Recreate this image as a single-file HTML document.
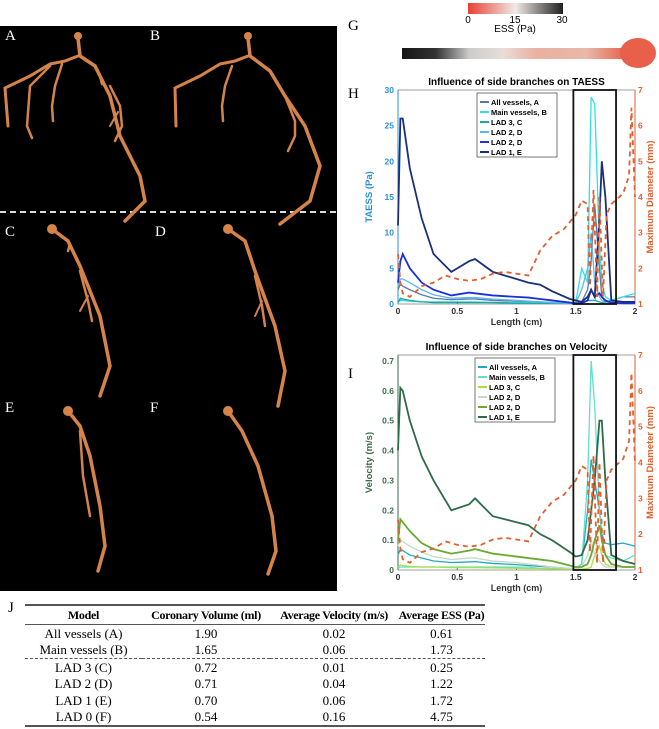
<!DOCTYPE html>
<html><head><meta charset="utf-8">
<style>
body{margin:0;background:#fff;width:659px;height:729px;overflow:hidden;font-family:"Liberation Sans",sans-serif;position:relative}
.lbl{position:absolute;font-family:"Liberation Serif",serif;font-size:15px}
table{position:absolute;left:25px;top:604px;width:460px;table-layout:fixed;border-collapse:collapse;font-family:"Liberation Serif",serif;font-size:13px;border-top:2px solid #555;border-bottom:2px solid #555}
td,th{text-align:center;padding:0;height:16.5px;line-height:15px;white-space:nowrap}
th{border-bottom:1.5px solid #555;font-weight:bold;height:18px;font-size:12px;letter-spacing:-0.3px}
tr.dash td{border-bottom:1.5px dashed #555}
</style></head><body>
<svg width="337" height="565" style="position:absolute;left:0;top:26px" viewBox="0 0 337 565">
<rect width="337" height="565" fill="#000"/>
<line x1="0" y1="186" x2="337" y2="186" stroke="#ddd" stroke-width="2" stroke-dasharray="6,4"/>
<g fill="none" stroke="#d6834a" stroke-linecap="round">
<path d="M78 12 L80 30 L95 40 L110 70 L120 110 L140 150 L145 175 L125 195" stroke-width="3.5"/>
<path d="M78 30 L65 35 L50 38 L30 50 L5 62 L8 100" stroke-width="3"/>
<path d="M50 40 L30 60 L27 100 L32 112" stroke-width="2.5"/>
<path d="M62 38 L55 60 L52 80 L53 95" stroke-width="2.5"/>
<path d="M110 60 L120 80 L122 100 L115 115" stroke-width="2.5"/>
<path d="M118 86 L110 100" stroke-width="2"/>
<path d="M100 50 L102 58" stroke-width="2.5"/>
<circle cx="78" cy="10" r="4" fill="#d6834a" stroke="none"/>
<path d="M248 12 L250 30 L270 45 L285 70 L305 100 L320 140 L310 175 L280 198" stroke-width="3.5"/>
<path d="M248 30 L235 35 L220 38 L200 50 L175 62 L176 100" stroke-width="3"/>
<path d="M232 40 L225 60 L222 80 L223 95" stroke-width="2.5"/>
<path d="M285 70 L295 95 L295 110 L288 125" stroke-width="2.5"/>
<circle cx="248" cy="10" r="4" fill="#d6834a" stroke="none"/>
<path d="M52 203 L68 215 L80 240 L100 290 L110 340 L100 370" stroke-width="3.5"/>
<path d="M80 245 L88 275 L92 295" stroke-width="2.5"/>
<path d="M88 270 L80 285" stroke-width="2"/>
<path d="M70 218 L68 225" stroke-width="2.5"/>
<circle cx="52" cy="203" r="5" fill="#d6834a" stroke="none"/>
<path d="M228 203 L245 215 L255 245 L275 300 L285 345 L278 380" stroke-width="3.5"/>
<path d="M255 250 L262 280 L265 300" stroke-width="2.5"/>
<path d="M262 275 L255 290" stroke-width="2"/>
<circle cx="228" cy="203" r="5" fill="#d6834a" stroke="none"/>
<path d="M68 385 L80 400 L90 430 L100 480 L105 520 L98 545" stroke-width="3.5"/>
<path d="M80 405 L83 450 L90 490" stroke-width="2.5"/>
<circle cx="68" cy="385" r="5" fill="#d6834a" stroke="none"/>
<path d="M228 385 L242 405 L258 440 L272 490 L276 525 L268 548" stroke-width="3.5"/>
<circle cx="228" cy="385" r="5" fill="#d6834a" stroke="none"/>
</g>
</svg>
<div class="lbl" style="left:5px;top:28px;color:#fff">A</div>
<div class="lbl" style="left:150px;top:28px;color:#fff">B</div>
<div class="lbl" style="left:5px;top:224px;color:#fff">C</div>
<div class="lbl" style="left:155px;top:224px;color:#fff">D</div>
<div class="lbl" style="left:5px;top:400px;color:#fff">E</div>
<div class="lbl" style="left:150px;top:400px;color:#fff">F</div>
<div class="lbl" style="left:348px;top:18px">G</div>
<div class="lbl" style="left:348px;top:86px">H</div>
<div class="lbl" style="left:348px;top:366px">I</div>
<div class="lbl" style="left:8px;top:600px">J</div>

<svg width="659" height="80" style="position:absolute;left:0;top:0">
<defs>
<linearGradient id="cb"><stop offset="0" stop-color="#e84030"/><stop offset="0.5" stop-color="#eeeae6"/><stop offset="1" stop-color="#202020"/></linearGradient>
<linearGradient id="vs"><stop offset="0" stop-color="#151515"/><stop offset="0.15" stop-color="#333"/><stop offset="0.3" stop-color="#ccc"/><stop offset="0.45" stop-color="#e8ddd8"/><stop offset="0.6" stop-color="#eab0a0"/><stop offset="0.82" stop-color="#e8b8aa"/><stop offset="1" stop-color="#e86048"/></linearGradient>
</defs>
<rect x="468" y="3" width="95" height="11" fill="url(#cb)"/>
<text x="468" y="23" font-size="10" text-anchor="middle">0</text>
<text x="515" y="23" font-size="10" text-anchor="middle">15</text>
<text x="562" y="23" font-size="10" text-anchor="middle">30</text>
<text x="515" y="32" font-size="10" text-anchor="middle">ESS (Pa)</text>
<rect x="402" y="48" width="225" height="11" fill="url(#vs)"/>
<ellipse cx="638" cy="53" rx="18" ry="15" fill="#e8604a"/>
</svg>

<svg id="ch" width="659" height="600" style="position:absolute;left:0;top:0"></svg>

<table>
<colgroup><col style="width:117px"><col style="width:128px"><col style="width:128px"><col style="width:87px"></colgroup>
<tr><th>Model</th><th>Coronary Volume (ml)</th><th>Average Velocity (m/s)</th><th>Average ESS (Pa)</th></tr>
<tr><td>All vessels (A)</td><td>1.90</td><td>0.02</td><td>0.61</td></tr>
<tr class="dash"><td>Main vessels (B)</td><td>1.65</td><td>0.06</td><td>1.73</td></tr>
<tr><td>LAD 3 (C)</td><td>0.72</td><td>0.01</td><td>0.25</td></tr>
<tr><td>LAD 2 (D)</td><td>0.71</td><td>0.04</td><td>1.22</td></tr>
<tr><td>LAD 1 (E)</td><td>0.70</td><td>0.06</td><td>1.72</td></tr>
<tr><td>LAD 0 (F)</td><td>0.54</td><td>0.16</td><td>4.75</td></tr>
</table>

<script>
const xLen=[0,0.02,0.04,0.1,0.2,0.3,0.45,0.6,0.65,0.8,1.0,1.1,1.2,1.3,1.45,1.5,1.55,1.6,1.63,1.66,1.7,1.72,1.75,1.8,1.9,2.0];
const seriesNames=["All vessels, A","Main vessels, B","LAD 3, C","LAD 2, D","LAD 2, D","LAD 1, E"];
const taessA=[2,2.8,2.5,2,1.3,0.8,0.6,0.7,0.7,0.5,0.4,0.3,0.3,0.2,0.1,0.1,0.3,2,6,14,5,1,0.3,0.5,1,1];
const taessB=[0.3,0.5,0.5,0.4,0.3,0.3,0.3,0.3,0.3,0.2,0.2,0.2,0.2,0.1,0.1,0.2,5,3,29,28,8,3,1,0.5,1,1.5];
const taessC=[0.2,0.8,0.7,0.5,0.3,0.2,0.2,0.2,0.2,0.2,0.1,0.1,0.1,0.1,0.1,0.1,0.2,0.5,0.5,0.5,0.3,0.2,0.1,0.1,0.1,0.1];
const taessD1=[2.5,3.5,3.5,3,2,1.3,0.8,0.9,0.9,0.7,0.5,0.4,0.3,0.2,0.1,0.1,2,5,10,3,1,0.5,0.2,0.1,0.1,0.1];
const taessD2=[3,6,7,5,3,2,1.2,1.6,1.5,1.2,1,0.9,0.7,0.5,0.2,0.1,0.1,0.5,2,1,1.5,1,0.5,0.2,0.1,0.1];
const taessE=[11,26,26,19,12,7,4.5,6,6.3,4.5,3.5,3,2.7,1.8,0.7,0.5,0.3,1,2,1,12,20,15,0.5,0.3,0.3];
const velA=[0.05,0.07,0.065,0.05,0.04,0.03,0.025,0.027,0.028,0.022,0.018,0.015,0.012,0.01,0.005,0.005,0.02,0.2,0.37,0.3,0.2,0.12,0.09,0.085,0.09,0.08];
const velB=[0.005,0.01,0.01,0.01,0.01,0.01,0.01,0.01,0.01,0.01,0.01,0.01,0.005,0.005,0.005,0.005,0.02,0.3,0.7,0.55,0.2,0.1,0.05,0.04,0.03,0.05];
const velC=[0.01,0.017,0.015,0.012,0.01,0.01,0.008,0.008,0.008,0.007,0.006,0.005,0.005,0.004,0.003,0.003,0.003,0.005,0.01,0.05,0.08,0.05,0.02,0.01,0.01,0.01];
const velD1=[0.08,0.1,0.095,0.08,0.06,0.045,0.035,0.04,0.04,0.03,0.025,0.02,0.015,0.01,0.005,0.005,0.01,0.05,0.1,0.05,0.03,0.02,0.01,0.01,0.01,0.01];
const velD2=[0.1,0.17,0.16,0.13,0.09,0.07,0.055,0.065,0.07,0.055,0.045,0.04,0.035,0.03,0.015,0.01,0.01,0.02,0.05,0.1,0.15,0.1,0.05,0.02,0.01,0.01];
const velE=[0.4,0.61,0.6,0.5,0.38,0.3,0.2,0.22,0.24,0.18,0.16,0.15,0.12,0.1,0.06,0.045,0.05,0.1,0.2,0.3,0.5,0.5,0.3,0.05,0.03,0.02];
const diamX=[0,0.02,0.04,0.1,0.2,0.3,0.4,0.5,0.6,0.7,0.8,0.9,1.0,1.1,1.2,1.3,1.4,1.5,1.55,1.6,1.62,1.65,1.68,1.7,1.73,1.76,1.8,1.9,1.95,1.97,2.0];
const diamY=[2.4,1.6,1.3,1.2,1.5,1.6,1.8,1.7,1.65,1.7,1.85,1.9,1.85,1.8,2.5,2.9,3.1,3.5,3.9,3.8,1.5,4.2,1.2,4.0,1.2,3.5,3.8,4.1,4.6,6.5,4.0];
const xTicks=[0,0.5,1,1.5,2];
const taessTicks=[0,5,10,15,20,25,30];
const velTicks=[0,0.1,0.2,0.3,0.4,0.5,0.6,0.7];
const diamTicks=[1,2,3,4,5,6,7];

const NS="http://www.w3.org/2000/svg",svg=document.getElementById('ch');
function mk(t,a,p){const e=document.createElementNS(NS,t);for(const k in a)e.setAttribute(k,a[k]);(p||svg).appendChild(e);return e;}
function txt(x,y,s,a,p){const e=mk('text',Object.assign({x:x,y:y},a),p);e.textContent=s;return e;}
function chart(o){
  const L=398,R=635,T=o.top,B=o.bottom;
  const g=mk('g',{});
  
  
  const sx=v=>L+(v/2)*(R-L), sy=v=>B-(v/o.ymax)*(B-T), sd=v=>B-((v-1)/6)*(B-T);
  mk('rect',{x:L,y:T,width:R-L,height:B-T,fill:'#fff',stroke:'#888','stroke-width':0.8},g);
  txt((L+R)/2,T-5,o.title,{'font-size':10,'font-weight':'bold','text-anchor':'middle'},g);
  xTicks.forEach(v=>{mk('line',{x1:sx(v),x2:sx(v),y1:B,y2:B-3,stroke:'#666'},g);txt(sx(v),B+10,String(v),{'font-size':8.5,'font-weight':'bold','text-anchor':'middle',fill:'#333'},g);});
  txt((L+R)/2,B+21,'Length (cm)',{'font-size':9,'font-weight':'bold','text-anchor':'middle',fill:'#333'},g);
  o.ticks.forEach(v=>{txt(L-4,sy(v)+3,String(v),{'font-size':8.5,'font-weight':'bold','text-anchor':'end',fill:o.lc},g);});
  mk('line',{x1:L,x2:L,y1:T,y2:B,stroke:o.lc},g);
  txt(0,0,o.ylabel,{'font-size':9.5,'font-weight':'bold','text-anchor':'middle',fill:o.lc,transform:`translate(${L-26},${(T+B)/2}) rotate(-90)`},g);
  mk('line',{x1:R,x2:R,y1:T,y2:B,stroke:'#e06030'},g);
  diamTicks.forEach(v=>txt(R+3,sd(v)+3,String(v),{'font-size':8.5,'font-weight':'bold',fill:'#e06030'},g));
  txt(0,0,'Maximum Diameter (mm)',{'font-size':9.5,'font-weight':'bold','text-anchor':'middle',fill:'#e06030',transform:`translate(${R+18},${(T+B)/2}) rotate(-90)`},g);
  o.series.forEach((s,i)=>{
    const p=mk('polyline',{points:xLen.map((x,j)=>sx(x)+','+sy(s[j])).join(' '),fill:'none',stroke:o.colors[i],'stroke-width':i==5||i==4?1.8:1.3},g);
    
    
  });
  const d=mk('polyline',{points:diamX.map((x,j)=>sx(x)+','+sd(diamY[j])).join(' '),fill:'none',stroke:'#e06030','stroke-width':1.8,'stroke-dasharray':'5,4'},g);
  
  
  mk('rect',{x:sx(1.48),y:T,width:sx(1.84)-sx(1.48),height:B-T,fill:'none',stroke:'#111','stroke-width':1.8},g);
  const lg=mk('g',{},g);
  
  
  mk('rect',{x:o.lx,y:T+3,width:80,height:64,fill:'#fff',stroke:'#555','stroke-width':0.8},lg);
  seriesNames.forEach((n,i)=>{const y=T+12+i*10;mk('line',{x1:o.lx+3,x2:o.lx+12,y1:y,y2:y,stroke:o.colors[i],'stroke-width':2},lg);txt(o.lx+14,y+3,n,{'font-size':7.5,'font-weight':'bold'},lg);});
}
chart({name:'taess-chart',top:90,bottom:304,ymax:30,ticks:taessTicks,lc:'#2a8fd8',ylabel:'TAESS (Pa)',title:'Influence of side branches on TAESS',lx:477,
 series:[taessA,taessB,taessC,taessD1,taessD2,taessE],colors:['#5a78a8','#30e0e8','#18a8a0','#5cb8e8','#1e2ed8','#1a2f7a']});
chart({name:'velocity-chart',top:355,bottom:570,ymax:0.72,ticks:velTicks,lc:'#3a6a50',ylabel:'Velocity (m/s)',title:'Influence of side branches on Velocity',lx:475,
 series:[velA,velB,velC,velD1,velD2,velE],colors:['#20a8c0','#60e0c8','#a8e040','#c8d8c8','#6aaa30','#2e6b4a']});
</script>
</body></html>
